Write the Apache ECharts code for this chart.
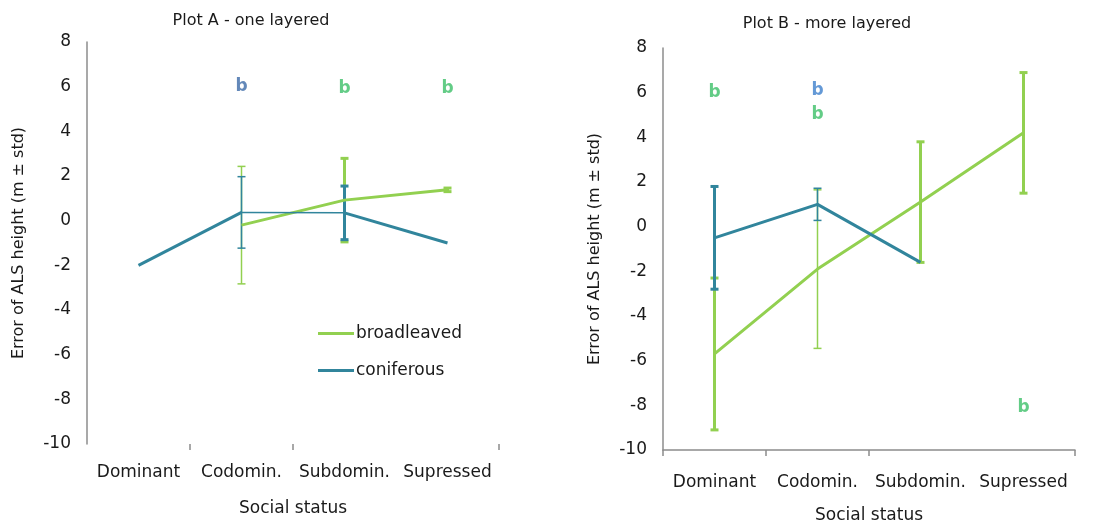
<!DOCTYPE html>
<html>
<head>
<meta charset="utf-8">
<script src="https://cdn.jsdelivr.net/npm/echarts@6/dist/echarts.min.js"></script>
<style>
  html, body { margin: 0; padding: 0; background: #fff; }
  #chart { width: 1098px; height: 526px; }
</style>
</head>
<body>
<div id="chart"></div>
<script>
// Social status classes on the x axis
const categories = ['Dominant', 'Codomin.', 'Subdomin.', 'Supressed'];
const yTicks = { min: -10, max: 8, interval: 2 };

// Plot A - one layered: mean error and standard deviation
const aBroadMean = [null, -0.2, 0.92, 1.38];
const aBroadStd  = [null, 2.63, 1.87, 0.08];
const aConifMean = [-2.0, 0.37, 0.35, -1.0];
const aConifStd  = [null, 1.6, 1.2, null];

// Plot B - more layered
const bBroadMean = [-5.7, -1.9, 1.1, 4.2];
const bBroadStd  = [3.4, 3.55, 2.7, 2.7];
const bConifMean = [-0.5, 1.0, -1.6, null];
const bConifStd  = [2.3, 0.72, null, null];

// Significance letters: [category index, y position, group]
const aLetters = [[1, 6.0, 'conif'], [2, 5.9, 'broad'], [3, 5.9, 'broad']];
const bLetters = [[0, 6.0, 'broad'], [1, 6.1, 'conifB'], [1, 5.0, 'broad'], [3, -8.1, 'broad']];

const GREEN = '#92d050';
const BLUE = '#31859c';
const letterColors = { broad: '#3cbf68', conif: '#3c6aa8', conifB: '#3d80cc' };
const FONT = 'DejaVu Sans';

// thick / thin error bar strokes per category
const aBroadW = [0, 1.5, 3, 3];
const aConifW = [0, 1.5, 3, 0];
const bBroadW = [3, 1.5, 3, 3];
const bConifW = [3, 1.5, 0, 0];

function errData(mean, std) {
  const out = [];
  mean.forEach((m, i) => {
    if (m != null && std[i] != null) out.push([i, m - std[i], m + std[i]]);
  });
  return out;
}

function errSeries(mean, std, widths, color, axisIdx) {
  return {
    type: 'custom',
    xAxisIndex: axisIdx, yAxisIndex: axisIdx,
    data: errData(mean, std),
    z: 3,
    silent: true,
    renderItem: function (params, api) {
      const i = api.value(0);
      const lo = api.coord([i, api.value(1)]);
      const hi = api.coord([i, api.value(2)]);
      const w = widths[i] || 1.5;
      const cap = 4;
      const st = { stroke: color, lineWidth: w };
      return {
        type: 'group',
        children: [
          { type: 'line', shape: { x1: hi[0], y1: hi[1], x2: lo[0], y2: lo[1] }, style: st },
          { type: 'line', shape: { x1: hi[0] - cap, y1: hi[1], x2: hi[0] + cap, y2: hi[1] }, style: st },
          { type: 'line', shape: { x1: lo[0] - cap, y1: lo[1], x2: lo[0] + cap, y2: lo[1] }, style: st }
        ]
      };
    }
  };
}

function lineSeries(name, data, color, width, axisIdx, z) {
  return {
    name: name, type: 'line',
    xAxisIndex: axisIdx, yAxisIndex: axisIdx,
    data: data, showSymbol: false, symbol: 'none',
    connectNulls: false, z: z || 4,
    lineStyle: { color: color, width: width },
    itemStyle: { color: color }
  };
}

function letterSeries(letters, axisIdx) {
  return {
    type: 'scatter',
    xAxisIndex: axisIdx, yAxisIndex: axisIdx,
    symbolSize: 0, silent: true, z: 6,
    data: letters.map(l => ({
      value: [l[0], l[1]],
      label: {
        show: true, position: 'inside', formatter: 'b',
        color: letterColors[l[2]], fontWeight: 'bold', fontSize: 17, fontFamily: FONT
      }
    }))
  };
}

// the coniferous line in plot A has a thin stretch between Codomin. and Subdomin.
const aConifThick1 = aConifMean.map((v, i) => (i <= 1 ? v : null));
const aConifThin   = aConifMean.map((v, i) => (i === 1 || i === 2 ? v : null));
const aConifThick2 = aConifMean.map((v, i) => (i >= 2 ? v : null));

const axisText = { color: '#1a1a1a', fontSize: 17, fontFamily: FONT };

function xAxis(gridIndex, showLine, tickIdx, labelMargin, nameGap) {
  return {
    type: 'category', gridIndex: gridIndex, data: categories,
    boundaryGap: true,
    axisLine: { show: showLine, onZero: false, lineStyle: { color: '#8c8c8c', width: 1.5 } },
    axisTick: {
      show: true, length: 6, lineStyle: { color: '#8c8c8c', width: 1.5 },
      interval: function (i) { return tickIdx.indexOf(i) >= 0; }
    },
    axisLabel: Object.assign({ margin: labelMargin, interval: 0 }, axisText),
    name: 'Social status', nameLocation: 'middle', nameGap: nameGap,
    nameTextStyle: { color: '#1a1a1a', fontSize: 17, fontFamily: FONT },
    splitLine: { show: false }
  };
}

function yAxis(gridIndex, gap) {
  return {
    type: 'value', gridIndex: gridIndex,
    min: yTicks.min, max: yTicks.max, interval: yTicks.interval,
    axisLine: { show: true, lineStyle: { color: '#8c8c8c', width: 1.5 } },
    axisTick: { show: false },
    splitLine: { show: false },
    axisLabel: Object.assign({ margin: 16 }, axisText),
    name: 'Error of ALS height (m \u00b1 std)', nameLocation: 'middle', nameGap: gap,
    nameTextStyle: { color: '#1a1a1a', fontSize: 16, fontFamily: FONT }
  };
}

const chart = echarts.init(document.getElementById('chart'), null, { renderer: 'canvas' });
chart.setOption({
  animation: false,
  backgroundColor: '#ffffff',
  title: [
    { text: 'Plot A - one layered', left: 246, top: 8, textAlign: 'center',
      textStyle: { color: '#1a1a1a', fontSize: 16, fontWeight: 'normal', fontFamily: FONT } },
    { text: 'Plot B - more layered', left: 822, top: 11, textAlign: 'center',
      textStyle: { color: '#1a1a1a', fontSize: 16, fontWeight: 'normal', fontFamily: FONT } }
  ],
  legend: {
    left: 313, top: 320, orient: 'vertical', itemGap: 20,
    itemWidth: 36, itemHeight: 12,
    icon: 'path://M0,4.5 L36,4.5 L36,7.5 L0,7.5 Z',
    data: [
      { name: 'broadleaved', itemStyle: { color: GREEN } },
      { name: 'coniferous', itemStyle: { color: BLUE } }
    ],
    textStyle: { color: '#1a1a1a', fontSize: 17, fontFamily: FONT, padding: [0, 0, 0, -3] }
  },
  grid: [
    { left: 87, top: 42, width: 412, height: 402, outerBoundsMode: 'none' },
    { left: 663, top: 48, width: 412, height: 402, outerBoundsMode: 'none' }
  ],
  xAxis: [xAxis(0, false, [1, 2], 20, 56), xAxis(1, true, [0, 1, 2], 24, 57)],
  yAxis: [yAxis(0, 60), yAxis(1, 60)],
  series: [
    errSeries(aBroadMean, aBroadStd, aBroadW, GREEN, 0),
    errSeries(aConifMean, aConifStd, aConifW, BLUE, 0),
    lineSeries('broadleaved', aBroadMean, GREEN, 3, 0),
    lineSeries('coniferous', aConifThick1, BLUE, 3, 0, 5),
    lineSeries('coniferous', aConifThin, BLUE, 1.5, 0, 5),
    lineSeries('coniferous', aConifThick2, BLUE, 3, 0, 5),
    letterSeries(aLetters, 0),

    errSeries(bBroadMean, bBroadStd, bBroadW, GREEN, 1),
    errSeries(bConifMean, bConifStd, bConifW, BLUE, 1),
    lineSeries('broadleaved', bBroadMean, GREEN, 3, 1),
    lineSeries('coniferous', bConifMean, BLUE, 3, 1, 5),
    letterSeries(bLetters, 1)
  ]
});
</script>
</body>
</html>
